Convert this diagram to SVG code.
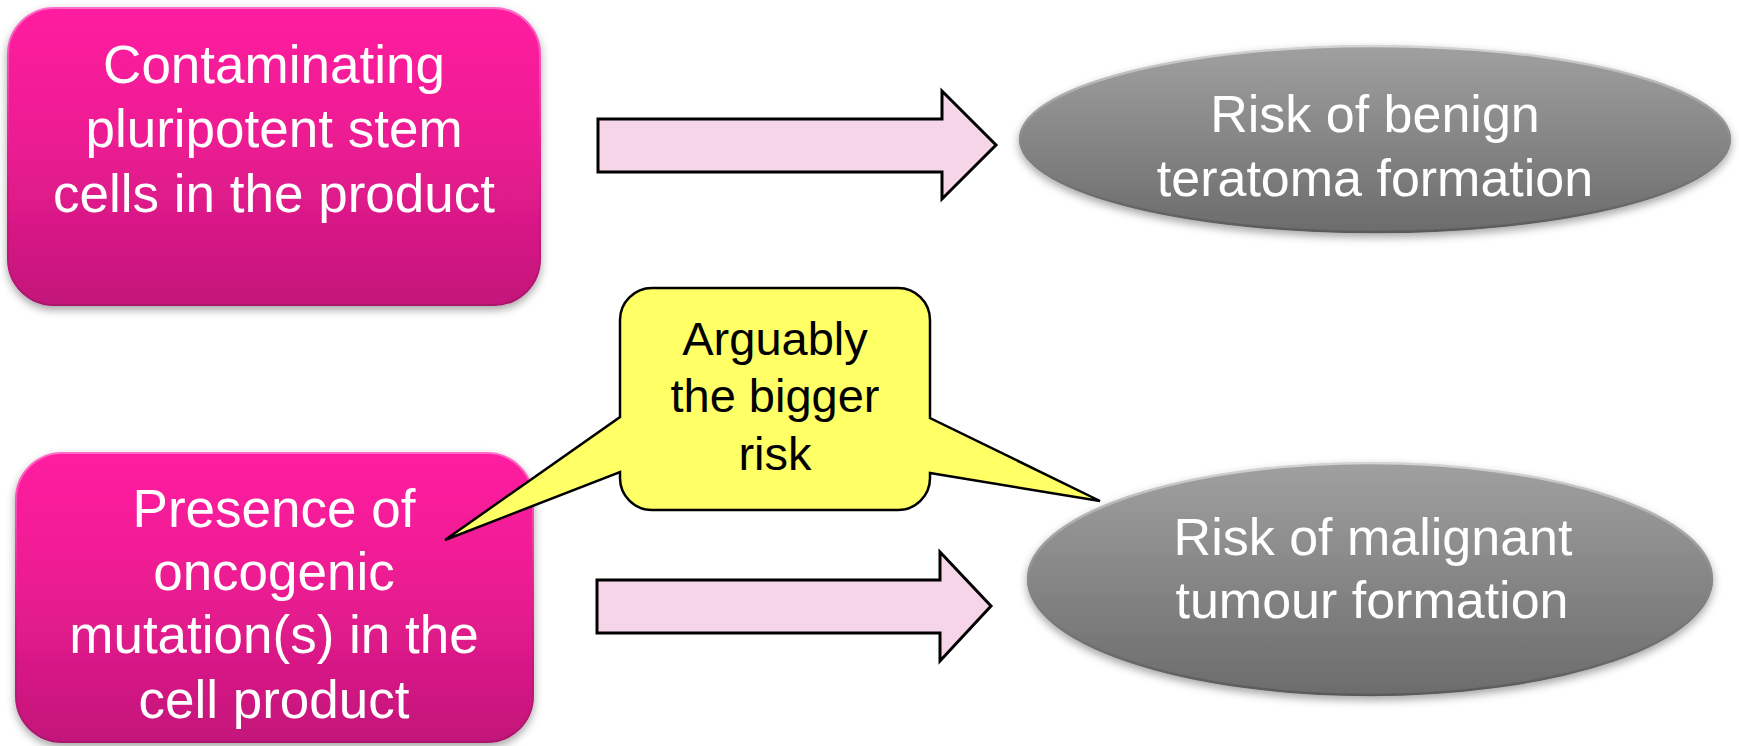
<svg xmlns="http://www.w3.org/2000/svg" width="1739" height="746" viewBox="0 0 1739 746">
  <style>
    .wt { font-family: "Liberation Sans", Arial, sans-serif; fill: #ffffff; text-anchor: middle; }
    .bt { font-family: "Liberation Sans", Arial, sans-serif; fill: #000000; text-anchor: middle; font-size: 47px; }
    .box { fill: url(#pinkGrad); stroke: url(#pinkRim); stroke-width: 2; filter: url(#shadow); }
    .oval { fill: url(#grayGrad); stroke: url(#grayRim); stroke-width: 2.5; filter: url(#shadow); }
    .arrow { fill: #F7D5E9; stroke: #000000; stroke-width: 3; stroke-linejoin: miter; }
    .callout { fill: #FFFF66; stroke: #000000; stroke-width: 2.5; stroke-linejoin: miter; }
  </style>
  <defs>
    <linearGradient id="pinkGrad" x1="0" y1="0" x2="0" y2="1">
      <stop offset="0" stop-color="#FF1FA0"/>
      <stop offset="0.45" stop-color="#EC1C92"/>
      <stop offset="1" stop-color="#C3167A"/>
    </linearGradient>
    <linearGradient id="pinkRim" x1="0" y1="0" x2="0" y2="1">
      <stop offset="0" stop-color="#FF6CC8"/>
      <stop offset="0.5" stop-color="#E91B90"/>
      <stop offset="1" stop-color="#A8126A"/>
    </linearGradient>
    <linearGradient id="grayGrad" x1="0" y1="0" x2="0" y2="1">
      <stop offset="0" stop-color="#A0A0A0"/>
      <stop offset="1" stop-color="#6C6C6C"/>
    </linearGradient>
    <linearGradient id="grayRim" x1="0" y1="0" x2="0" y2="1">
      <stop offset="0" stop-color="#D4D4D4"/>
      <stop offset="0.5" stop-color="#8A8A8A"/>
      <stop offset="1" stop-color="#5A5A5A"/>
    </linearGradient>
    <filter id="shadow" x="-10%" y="-10%" width="120%" height="130%">
      <feDropShadow dx="0" dy="4" stdDeviation="4" flood-color="#000000" flood-opacity="0.35"/>
    </filter>
  </defs>
  <rect width="1739" height="746" fill="#ffffff"/>

  <g id="node-contaminating">
    <rect class="box" x="8" y="8" width="532" height="297" rx="46" ry="46"/>
    <text class="wt" font-size="53" x="274" y="83">Contaminating</text>
    <text class="wt" font-size="53" x="274" y="147">pluripotent stem</text>
    <text class="wt" font-size="53" x="274" y="212">cells in the product</text>
  </g>

  <g id="node-oncogenic">
    <rect class="box" x="16" y="453" width="517" height="289" rx="46" ry="46"/>
    <text class="wt" font-size="53" x="274" y="527">Presence of</text>
    <text class="wt" font-size="53" x="274" y="590">oncogenic</text>
    <text class="wt" font-size="53" x="274" y="653">mutation(s) in the</text>
    <text class="wt" font-size="53" x="274" y="718">cell product</text>
  </g>

  <g id="node-teratoma">
    <ellipse class="oval" cx="1375" cy="139" rx="355" ry="93"/>
    <text class="wt" font-size="52" x="1375" y="132">Risk of benign</text>
    <text class="wt" font-size="52" x="1375" y="196">teratoma formation</text>
  </g>

  <g id="node-malignant">
    <ellipse class="oval" cx="1370" cy="579" rx="342" ry="116"/>
    <text class="wt" font-size="52" x="1373" y="555">Risk of malignant</text>
    <text class="wt" font-size="52" x="1372" y="618">tumour formation</text>
  </g>

  <g id="connectors">
    <path class="arrow" d="M598,119 H942 V91 L996,145 L942,199 V172 H598 Z"/>
    <path class="arrow" d="M597,580 H940 V552 L991,606 L940,661 V633 H597 Z"/>
  </g>

  <g id="callout-bigger-risk">
    <path class="callout" d="M652,288 H898 A32,32 0 0 1 930,320 V418 L1100,501 L930,473 V478 A32,32 0 0 1 898,510 H652 A32,32 0 0 1 620,478 V472 L445,540 L620,417 V320 A32,32 0 0 1 652,288 Z"/>
    <text class="bt" x="775" y="355">Arguably</text>
    <text class="bt" x="775" y="412">the bigger</text>
    <text class="bt" x="775" y="470">risk</text>
  </g>
</svg>
